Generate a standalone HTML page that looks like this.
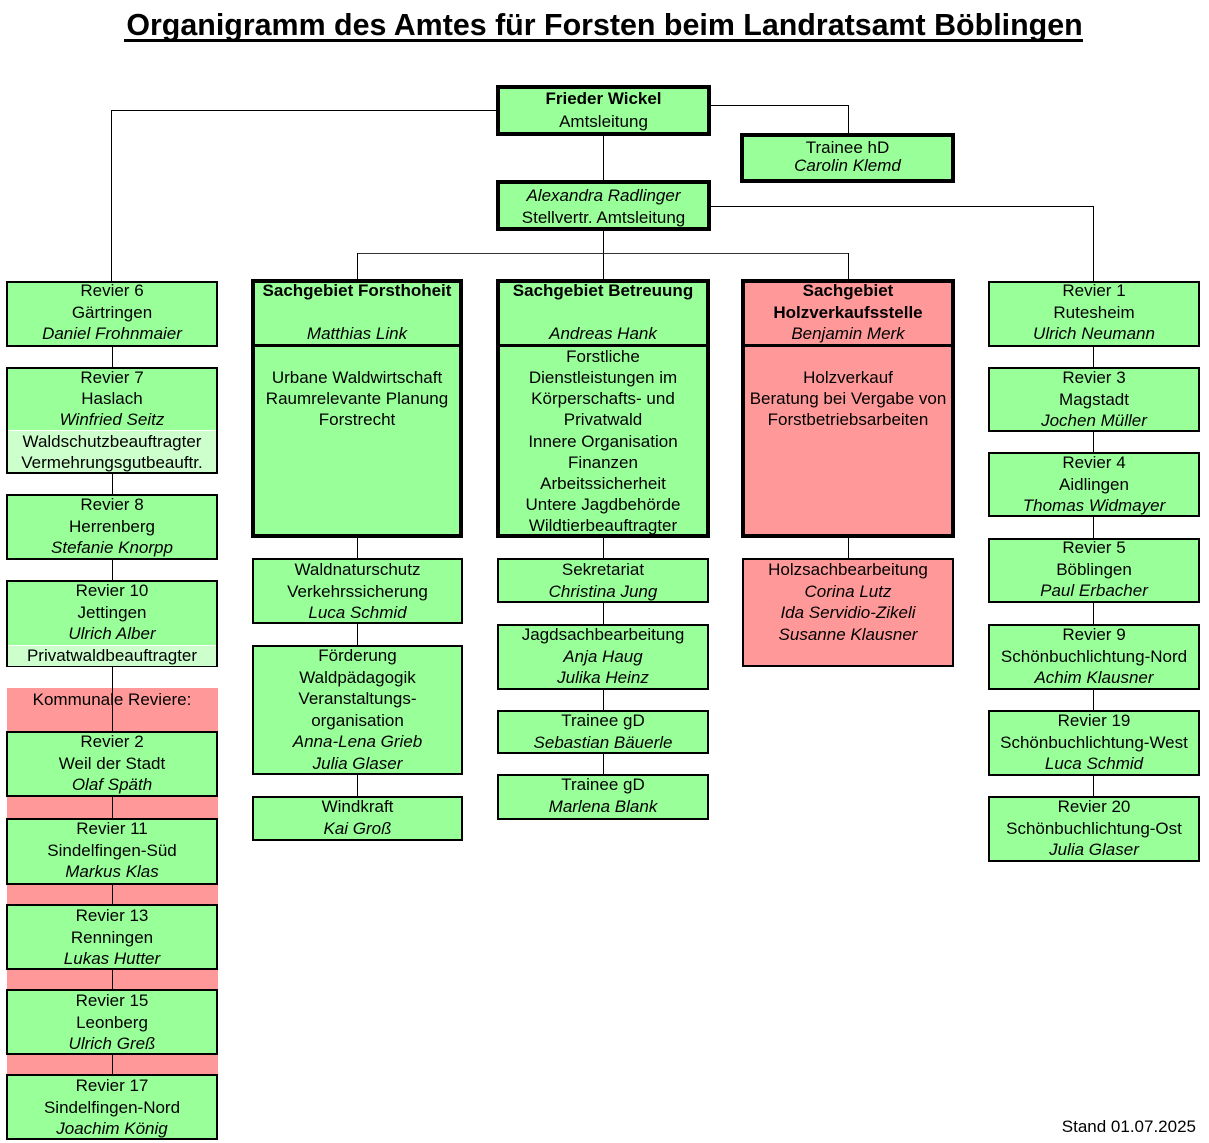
<!DOCTYPE html>
<html>
<head>
<meta charset="utf-8">
<style>
html,body{margin:0;padding:0;background:#fff;}
body{width:1209px;height:1143px;position:relative;overflow:hidden;font-family:"Liberation Sans",Arial,sans-serif;color:#000;}
.l{position:absolute;background:#000;}
.b{position:absolute;box-sizing:border-box;border:2px solid #000;background:#99FF99;}
.k{border-width:4px;}
.p{background:#FF9999;}
.t{position:absolute;text-align:center;font-size:17px;line-height:21.5px;white-space:nowrap;transform:translateY(1px);}
.sep{position:absolute;background:#000;}
.lg{position:absolute;background:#CCFFCC;border-top:1px solid #fff;}
</style>
</head>
<body>

<!-- Title -->
<div style="position:absolute;left:0;width:1209px;top:10px;text-align:center;font-size:30.4px;line-height:30.4px;font-weight:bold;white-space:nowrap;">Organigramm des Amtes für Forsten beim Landratsamt Böblingen</div>
<div class="l" style="left:124px;top:39px;width:959px;height:3px;"></div>

<!-- Kommunale pink region -->
<div style="position:absolute;left:7px;top:688px;width:211px;height:387px;background:#FF9999;"></div>

<!-- Connectors -->
<div class="l" style="left:111px;top:110px;width:385px;height:1px;"></div>
<div class="l" style="left:111px;top:110px;width:1px;height:171px;"></div>
<div class="l" style="left:711px;top:105px;width:137px;height:1px;"></div>
<div class="l" style="left:848px;top:105px;width:1px;height:28px;"></div>
<div class="l" style="left:603px;top:136px;width:1px;height:44px;"></div>
<div class="l" style="left:711px;top:206px;width:382px;height:1px;"></div>
<div class="l" style="left:1093px;top:206px;width:1px;height:75px;"></div>
<div class="l" style="left:603px;top:231px;width:1px;height:48px;"></div>
<div class="l" style="left:357px;top:253px;width:491px;height:1px;background:#333;"></div>
<div class="l" style="left:357px;top:253px;width:1px;height:26px;"></div>
<div class="l" style="left:848px;top:253px;width:1px;height:26px;"></div>
<div class="l" style="left:112px;top:346px;width:1px;height:729px;"></div>
<div class="l" style="left:357px;top:538px;width:1px;height:258px;"></div>
<div class="l" style="left:603px;top:538px;width:1px;height:236px;"></div>
<div class="l" style="left:848px;top:538px;width:1px;height:20px;"></div>
<div class="l" style="left:1093px;top:346px;width:1px;height:450px;"></div>

<!-- Top boxes -->
<div class="b k" style="left:496px;top:85px;width:215px;height:51px;"></div>
<div class="t" style="left:496px;width:215px;top:86px;line-height:23px;"><b>Frieder Wickel</b><br>Amtsleitung</div>

<div class="b k" style="left:740px;top:133px;width:215px;height:50px;"></div>
<div class="t" style="left:740px;width:215px;top:138px;line-height:18px;">Trainee hD<br><i>Carolin Klemd</i></div>

<div class="b k" style="left:496px;top:180px;width:215px;height:51px;"></div>
<div class="t" style="left:496px;width:215px;top:184px;line-height:22px;"><i>Alexandra Radlinger</i><br>Stellvertr. Amtsleitung</div>

<!-- Sachgebiet Forsthoheit -->
<div class="b k" style="left:251px;top:279px;width:212px;height:259px;"></div>
<div class="sep" style="left:251px;top:344px;width:212px;height:3px;"></div>
<div class="t" style="left:251px;width:212px;top:279px;"><b>Sachgebiet Forsthoheit</b><br>&nbsp;<br><i>Matthias Link</i></div>
<div class="t" style="left:251px;width:212px;top:366px;line-height:21.2px;">Urbane Waldwirtschaft<br>Raumrelevante Planung<br>Forstrecht</div>

<!-- Sachgebiet Betreuung -->
<div class="b k" style="left:496px;top:279px;width:214px;height:259px;"></div>
<div class="sep" style="left:496px;top:344px;width:214px;height:3px;"></div>
<div class="t" style="left:496px;width:214px;top:279px;"><b>Sachgebiet Betreuung</b><br>&nbsp;<br><i>Andreas Hank</i></div>
<div class="t" style="left:496px;width:214px;top:345px;line-height:21.15px;">Forstliche<br>Dienstleistungen im<br>Körperschafts- und<br>Privatwald<br>Innere Organisation<br>Finanzen<br>Arbeitssicherheit<br>Untere Jagdbehörde<br>Wildtierbeauftragter</div>

<!-- Sachgebiet Holzverkaufsstelle -->
<div class="b k p" style="left:741px;top:279px;width:214px;height:259px;"></div>
<div class="sep" style="left:741px;top:344px;width:214px;height:3px;"></div>
<div class="t" style="left:741px;width:214px;top:279px;"><b>Sachgebiet</b><br><b>Holzverkaufsstelle</b><br><i>Benjamin Merk</i></div>
<div class="t" style="left:741px;width:214px;top:366px;line-height:21.2px;">Holzverkauf<br>Beratung bei Vergabe von<br>Forstbetriebsarbeiten</div>

<!-- Left column -->
<div class="b" style="left:6px;top:281px;width:212px;height:66px;"></div>
<div class="t" style="left:6px;width:212px;top:279px;">Revier 6<br>Gärtringen<br><i>Daniel Frohnmaier</i></div>

<div class="b" style="left:6px;top:367px;width:212px;height:107px;"></div>
<div class="lg" style="left:8px;top:430px;width:208px;height:41px;"></div>
<div class="t" style="left:6px;width:212px;top:366px;line-height:21.2px;">Revier 7<br>Haslach<br><i>Winfried Seitz</i><br>Waldschutzbeauftragter<br>Vermehrungsgutbeauftr.</div>

<div class="b" style="left:6px;top:494px;width:212px;height:66px;"></div>
<div class="t" style="left:6px;width:212px;top:493px;">Revier 8<br>Herrenberg<br><i>Stefanie Knorpp</i></div>

<div class="b" style="left:6px;top:580px;width:212px;height:87px;"></div>
<div class="lg" style="left:8px;top:645px;width:208px;height:20px;"></div>
<div class="t" style="left:6px;width:212px;top:579px;">Revier 10<br>Jettingen<br><i>Ulrich Alber</i><br>Privatwaldbeauftragter</div>

<div class="t" style="left:6px;width:212px;top:688px;">Kommunale Reviere:</div>

<div class="b" style="left:6px;top:731px;width:212px;height:66px;"></div>
<div class="t" style="left:6px;width:212px;top:730px;">Revier 2<br>Weil der Stadt<br><i>Olaf Späth</i></div>

<div class="b" style="left:6px;top:818px;width:212px;height:67px;"></div>
<div class="t" style="left:6px;width:212px;top:817px;">Revier 11<br>Sindelfingen-Süd<br><i>Markus Klas</i></div>

<div class="b" style="left:6px;top:904px;width:212px;height:66px;"></div>
<div class="t" style="left:6px;width:212px;top:904px;">Revier 13<br>Renningen<br><i>Lukas Hutter</i></div>

<div class="b" style="left:6px;top:989px;width:212px;height:66px;"></div>
<div class="t" style="left:6px;width:212px;top:989px;">Revier 15<br>Leonberg<br><i>Ulrich Greß</i></div>

<div class="b" style="left:6px;top:1074px;width:212px;height:66px;"></div>
<div class="t" style="left:6px;width:212px;top:1074px;">Revier 17<br>Sindelfingen-Nord<br><i>Joachim König</i></div>

<!-- Middle column 1 -->
<div class="b" style="left:252px;top:558px;width:211px;height:66px;"></div>
<div class="t" style="left:252px;width:211px;top:558px;">Waldnaturschutz<br>Verkehrssicherung<br><i>Luca Schmid</i></div>

<div class="b" style="left:252px;top:645px;width:211px;height:130px;"></div>
<div class="t" style="left:252px;width:211px;top:644px;">Förderung<br>Waldpädagogik<br>Veranstaltungs-<br>organisation<br><i>Anna-Lena Grieb</i><br><i>Julia Glaser</i></div>

<div class="b" style="left:252px;top:796px;width:211px;height:45px;"></div>
<div class="t" style="left:252px;width:211px;top:795px;">Windkraft<br><i>Kai Groß</i></div>

<!-- Middle column 2 -->
<div class="b" style="left:497px;top:558px;width:212px;height:45px;"></div>
<div class="t" style="left:497px;width:212px;top:558px;">Sekretariat<br><i>Christina Jung</i></div>

<div class="b" style="left:497px;top:624px;width:212px;height:66px;"></div>
<div class="t" style="left:497px;width:212px;top:623px;">Jagdsachbearbeitung<br><i>Anja Haug</i><br><i>Julika Heinz</i></div>

<div class="b" style="left:497px;top:710px;width:212px;height:44px;"></div>
<div class="t" style="left:497px;width:212px;top:709px;">Trainee gD<br><i>Sebastian Bäuerle</i></div>

<div class="b" style="left:497px;top:774px;width:212px;height:46px;"></div>
<div class="t" style="left:497px;width:212px;top:773px;">Trainee gD<br><i>Marlena Blank</i></div>

<!-- Holz column -->
<div class="b p" style="left:742px;top:558px;width:212px;height:109px;"></div>
<div class="t" style="left:742px;width:212px;top:558px;">Holzsachbearbeitung<br><i>Corina Lutz</i><br><i>Ida Servidio-Zikeli</i><br><i>Susanne Klausner</i></div>

<!-- Right column -->
<div class="b" style="left:988px;top:281px;width:212px;height:66px;"></div>
<div class="t" style="left:988px;width:212px;top:279px;">Revier 1<br>Rutesheim<br><i>Ulrich Neumann</i></div>

<div class="b" style="left:988px;top:367px;width:212px;height:65px;"></div>
<div class="t" style="left:988px;width:212px;top:366px;">Revier 3<br>Magstadt<br><i>Jochen Müller</i></div>

<div class="b" style="left:988px;top:452px;width:212px;height:65px;"></div>
<div class="t" style="left:988px;width:212px;top:451px;">Revier 4<br>Aidlingen<br><i>Thomas Widmayer</i></div>

<div class="b" style="left:988px;top:538px;width:212px;height:65px;"></div>
<div class="t" style="left:988px;width:212px;top:536px;">Revier 5<br>Böblingen<br><i>Paul Erbacher</i></div>

<div class="b" style="left:988px;top:624px;width:212px;height:66px;"></div>
<div class="t" style="left:988px;width:212px;top:623px;">Revier 9<br>Schönbuchlichtung-Nord<br><i>Achim Klausner</i></div>

<div class="b" style="left:988px;top:710px;width:212px;height:66px;"></div>
<div class="t" style="left:988px;width:212px;top:709px;">Revier 19<br>Schönbuchlichtung-West<br><i>Luca Schmid</i></div>

<div class="b" style="left:988px;top:796px;width:212px;height:66px;"></div>
<div class="t" style="left:988px;width:212px;top:795px;">Revier 20<br>Schönbuchlichtung-Ost<br><i>Julia Glaser</i></div>

<!-- Footer -->
<div class="t" style="left:996px;width:200px;top:1115px;text-align:right;">Stand 01.07.2025</div>

</body>
</html>
